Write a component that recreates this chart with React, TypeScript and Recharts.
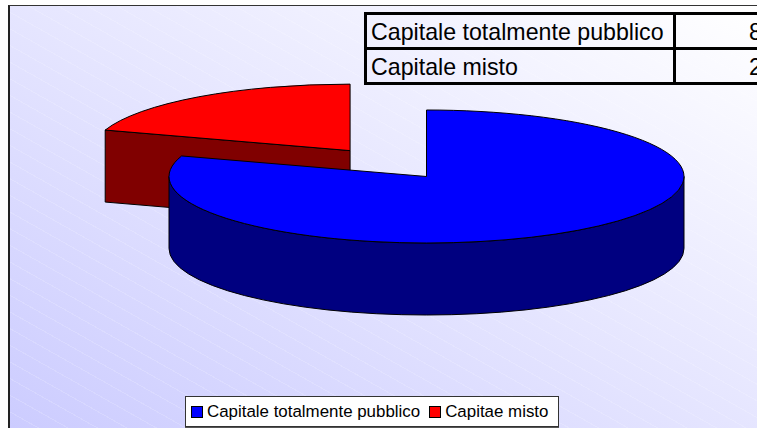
import { PieChart, Pie, Legend } from "recharts";

const legendLabels = ["Capitale totalmente pubblico", "Capitae misto"];
const tableLabels = ["Capitale totalmente pubblico", "Capitale misto"];
const tableValues = ["80", "20"];
const sliceNames = ["Capitale misto", "Capitale totalmente pubblico"];
const sliceValues = [20, 80];
const sliceColors = ["#ff0000", "#0000ff"];
const sideColors = ["#800000", "#000080"];
const legendColors = ["#0000ff", "#ff0000"];

const pieData = sliceNames.map((name, i) => ({ name, value: sliceValues[i], fill: sliceColors[i] }));

const FONT = "'Liberation Sans', Arial, sans-serif";
const TILT = 66.5 / 257.5;
const DEPTH = 72;
const EXPLODE_X = 130;
const EXPLODE_Y = 32;
const RAD = Math.PI / 180;

// Recharts gives us the angles, we squash them into a tilted disc with a wall below it
function DiscSlice(props: any) {
  const { cx, cy, outerRadius: r, startAngle, endAngle, midAngle, fill, index } = props;
  const i = index ?? sliceNames.indexOf(props.name);
  const exploded = i === 0;
  const ox = cx + (exploded ? EXPLODE_X * Math.cos(midAngle * RAD) : 0);
  const oy = cy - (exploded ? EXPLODE_Y * Math.sin(midAngle * RAD) : 0);
  const px = (a: number) => ox + r * Math.cos(a * RAD);
  const py = (a: number) => oy - r * TILT * Math.sin(a * RAD);
  const ry = r * TILT;
  const large = Math.abs(startAngle - endAngle) > 180 ? 1 : 0;
  const top = `M${ox},${oy}L${px(startAngle)},${py(startAngle)}A${r},${ry} 0 ${large} 1 ${px(endAngle)},${py(endAngle)}Z`;

  const faces: string[] = [];
  if (Math.cos(startAngle * RAD) < -1e-6) {
    faces.push(`M${px(startAngle)},${py(startAngle)}L${ox},${oy}v${DEPTH}L${px(startAngle)},${py(startAngle) + DEPTH}Z`);
  }
  if (Math.cos(endAngle * RAD) > 1e-6) {
    faces.push(`M${px(endAngle)},${py(endAngle)}L${ox},${oy}v${DEPTH}L${px(endAngle)},${py(endAngle) + DEPTH}Z`);
  }
  // front half of the rim, only when the slice spans it
  if (startAngle >= 0 && endAngle <= -180) {
    faces.push(`M${px(180)},${py(180)}A${r},${ry} 0 0 0 ${px(0)},${py(0)}v${DEPTH}A${r},${ry} 0 0 1 ${px(180)},${py(180) + DEPTH}Z`);
  }

  return (
    <g>
      {faces.map((d) => (
        <path key={d} d={d} fill={sideColors[i]} stroke="#000" strokeWidth={1} />
      ))}
      <path d={top} fill={fill} stroke="#000" strokeWidth={1} />
    </g>
  );
}

function ChartLegend() {
  return (
    <div
      style={{
        boxSizing: "border-box",
        width: 374,
        height: 31,
        background: "#fff",
        border: "1px solid #333",
        boxShadow: "0 1px 0 #555",
        display: "flex",
        alignItems: "center",
        paddingLeft: 5,
        fontFamily: FONT,
        fontSize: 16.9,
        color: "#000",
        whiteSpace: "nowrap",
      }}
    >
      {legendLabels.map((label, i) => (
        <span key={label} style={{ display: "flex", alignItems: "center", marginRight: 9 }}>
          <span
            style={{
              boxSizing: "border-box",
              width: 12,
              height: 12,
              background: legendColors[i],
              border: "1px solid #000",
              marginRight: 4,
            }}
          />
          {label}
        </span>
      ))}
    </div>
  );
}

function DataTable() {
  return (
    <div
      style={{
        position: "absolute",
        left: 364,
        top: 12,
        width: 420,
        fontFamily: FONT,
        fontSize: 23.2,
        color: "#000",
        borderTop: "3px solid #000",
        borderLeft: "3px solid #000",
      }}
    >
      {tableLabels.map((label, i) => (
        <div key={label} style={{ display: "flex", height: 32, borderBottom: "3px solid #000", lineHeight: "35px" }}>
          <div style={{ boxSizing: "border-box", width: 306, paddingLeft: 4, whiteSpace: "nowrap" }}>{label}</div>
          <div style={{ width: 3, background: "#000" }} />
          <div style={{ paddingLeft: 73 }}>{tableValues[i]}</div>
        </div>
      ))}
    </div>
  );
}

export default function App() {
  return (
    <div style={{ position: "absolute", left: 0, top: 0, width: 757, height: 428, overflow: "hidden", background: "#fff" }}>
      <div
        style={{
          position: "absolute",
          left: 8,
          top: 5,
          width: 749,
          height: 423,
          boxSizing: "border-box",
          borderLeft: "2px solid #222",
          borderTop: "1px solid #333",
          background:
            "repeating-linear-gradient(29.46deg, rgba(255,255,255,0) 0 13.5px, rgba(255,255,255,0.16) 13.5px 14.5px), linear-gradient(to top right, #ccccff, #ffffff)",
        }}
      />
      <div style={{ position: "absolute", left: 0, top: 0 }}>
        <PieChart width={757} height={428} margin={{ top: 0, right: 0, bottom: 0, left: 0 }}>
          <Pie
            data={pieData}
            dataKey="value"
            nameKey="name"
            cx={426.5}
            cy={176.5}
            outerRadius={257.5}
            startAngle={162}
            endAngle={-198}
            paddingAngle={0}
            stroke="#000"
            isAnimationActive={false}
            shape={DiscSlice}
          />
          <Legend content={<ChartLegend />} wrapperStyle={{ position: "absolute", left: 185, top: 396, bottom: "auto", width: 374 }} />
        </PieChart>
      </div>
      <DataTable />
    </div>
  );
}
